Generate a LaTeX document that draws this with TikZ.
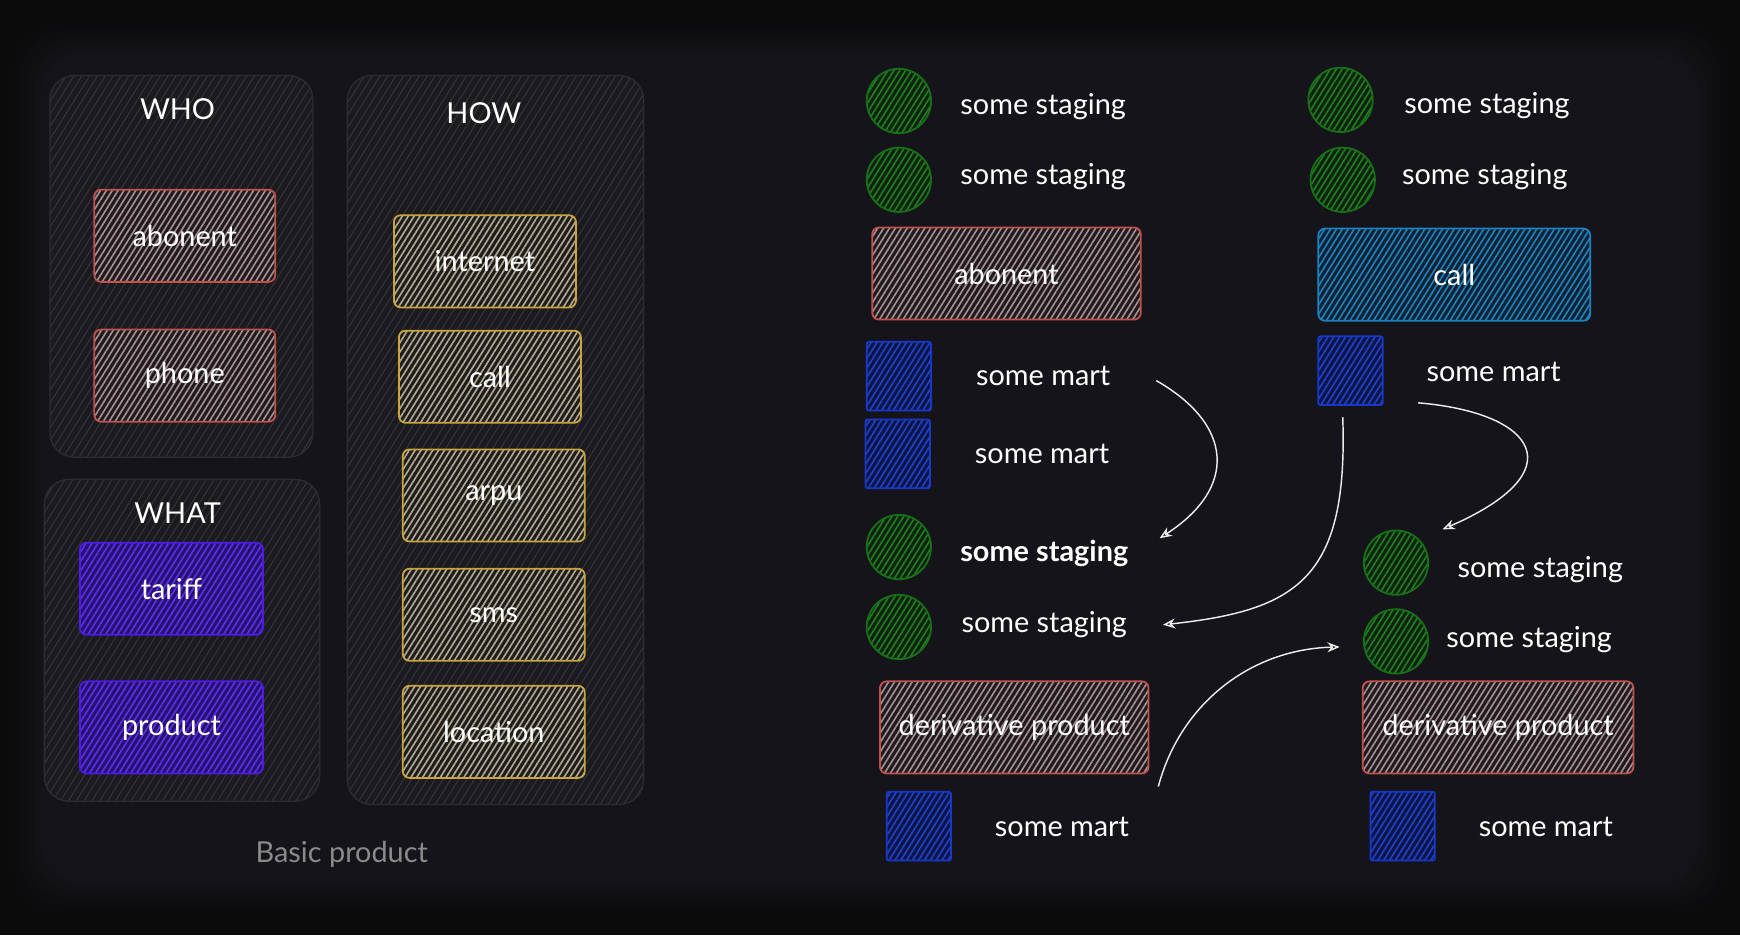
\documentclass[tikz,border=0pt]{standalone}
\usepackage{fontspec}
\setmainfont{Lato}
\usetikzlibrary{patterns.meta,arrows.meta}
\definecolor{outerbg}{HTML}{0B0B0C}
\definecolor{innerbg}{HTML}{16141B}
\definecolor{panelbase}{HTML}{1B1A1F}
\definecolor{panelhatch}{HTML}{38373D}
\definecolor{panelline}{HTML}{2C2B31}
\definecolor{redline}{HTML}{C2504C}
\definecolor{redbase}{HTML}{1F1A1D}
\definecolor{redhatch}{HTML}{A38F92}
\definecolor{yelline}{HTML}{C9A53B}
\definecolor{yelbase}{HTML}{1E1D1C}
\definecolor{yelhatch}{HTML}{B0A792}
\definecolor{purline}{HTML}{4C1DE0}
\definecolor{purbase}{HTML}{26116E}
\definecolor{purhatch}{HTML}{5C2EE8}
\definecolor{grnline}{HTML}{177117}
\definecolor{grnbase}{HTML}{0E220F}
\definecolor{grnhatch}{HTML}{207D20}
\definecolor{bluline}{HTML}{1838C8}
\definecolor{blubase}{HTML}{0E1444}
\definecolor{bluhatch}{HTML}{1E42C8}
\definecolor{cyaline}{HTML}{1B82C2}
\definecolor{cyabase}{HTML}{0E2233}
\definecolor{cyahatch}{HTML}{1F80BA}
\definecolor{capgray}{HTML}{8A8A8A}
\begin{document}
\begin{tikzpicture}[x=1pt,y=-1pt,
  hatch/.style 2 args={preaction={fill=#1},pattern={Lines[angle=58,distance=4.5pt,line width=1.5pt]},pattern color=#2},
  sk/.style={line width=1.6pt,rounded corners=6pt,text=white,font=\fontsize{26}{30}\selectfont,inner sep=0pt},
  panel/.style={draw=panelline,line width=1.2pt,rounded corners=22pt,preaction={fill=panelbase},
    pattern={Lines[angle=58,distance=6pt,line width=.8pt]},pattern color=panelhatch},
  redbox/.style={sk,draw=redline,hatch={redbase}{redhatch},minimum height=83pt},
  yelbox/.style={sk,draw=yelline,hatch={yelbase}{yelhatch},minimum width=164pt,minimum height=83pt},
  purbox/.style={sk,draw=purline,hatch={purbase}{purhatch},minimum width=165pt,minimum height=83pt},
  cyabox/.style={sk,draw=cyaline,hatch={cyabase}{cyahatch},minimum height=83pt},
  staging/.style={circle,draw=grnline,line width=1.6pt,hatch={grnbase}{grnhatch},minimum size=58pt,inner sep=0pt},
  mart/.style={rectangle,rounded corners=2pt,draw=bluline,line width=1.6pt,hatch={blubase}{bluhatch},minimum width=58pt,minimum height=62pt,inner sep=0pt},
  lbl/.style={text=white,font=\fontsize{26}{30}\selectfont,inner sep=0pt},
  flow/.style={draw=white!92!black,line width=1.3pt,-{Stealth[open,length=11pt,width=9pt]}}
]
\useasboundingbox (0,0) rectangle (1568,843);
% background, soft edge
\fill[outerbg] (0,0) rectangle (1568,843);
\foreach \d/\c in {0/10,6/25,12/45,18/65,24/85,30/100}
  \fill[innerbg!\c!outerbg,rounded corners=40pt] (12+\d,22+\d) rectangle (1556-\d,822-\d);

% basic product
\node[panel,minimum width=237pt,minimum height=344pt] (who) at (163.5,240) {};
\node[panel,minimum width=248pt,minimum height=290pt] (what) at (164,577) {};
\node[panel,minimum width=267pt,minimum height=657pt] (how) at (446.5,396.5) {};
\node[lbl] (who-t) at (160,98) {WHO};
\node[lbl] (what-t) at (160,462) {WHAT};
\node[lbl] (how-t) at (436,102) {HOW};
\node[redbox,minimum width=163pt] (who-ab) at (166.5,212.5) {abonent};
\node[redbox,minimum width=163pt] (who-ph) at (166.5,338.5) {phone};
\node[purbox] (what-ta) at (154.5,530.5) {tariff};
\node[purbox] (what-pr) at (154.5,655.5) {product};
\foreach \t/\x/\y in {internet/437/235.5,call/441.5/339.5,arpu/445/446.5,sms/445/554,location/445/659.5}
  \node[yelbox] (how-\t) at (\x,\y) {\t};
\node[lbl,text=capgray] (basic) at (308,770) {Basic product};

% first derivative
\node[staging] (c1s1) at (810,91) {};
\node[lbl] (c1s1t) at (940,96) {some staging};
\node[staging] (c1s2) at (810,162) {};
\node[lbl] (c1s2t) at (940,159) {some staging};
\node[redbox,minimum width=242pt] (c1ab) at (907,246.5) {abonent};
\node[mart] (c1m1) at (810,339) {};
\node[lbl] (c1m1t) at (940,339) {some mart};
\node[mart] (c1m2) at (809,409) {};
\node[lbl] (c1m2t) at (939,409) {some mart};
\node[staging] (c1s3) at (810,493) {};
\node[lbl,font=\fontsize{26}{30}\selectfont\bfseries] (c1s3t) at (941,499) {some staging};
\node[staging] (c1s4) at (810,565) {};
\node[lbl] (c1s4t) at (941,563) {some staging};
\node[redbox,minimum width=242pt] (c1d) at (914,655.5) {derivative product};
\node[mart] (c1m3) at (828,744.5) {};
\node[lbl] (c1m3t) at (957,745) {some mart};

% second derivative
\node[staging] (c2s1) at (1208,90) {};
\node[lbl] (c2s1t) at (1340,95) {some staging};
\node[staging] (c2s2) at (1210,162) {};
\node[lbl] (c2s2t) at (1338,159) {some staging};
\node[cyabox,minimum width=245pt] (c2call) at (1310.5,247.5) {call};
\node[mart] (c2m1) at (1217,334) {};
\node[lbl] (c2m1t) at (1346,335) {some mart};
\node[staging] (c2s3) at (1258,507) {};
\node[lbl] (c2s3t) at (1388,513) {some staging};
\node[staging] (c2s4) at (1258,578) {};
\node[lbl] (c2s4t) at (1378,576) {some staging};
\node[redbox,minimum width=244pt] (c2d) at (1350,655.5) {derivative product};
\node[mart] (c2m2) at (1264,744.5) {};
\node[lbl] (c2m2t) at (1393,745) {some mart};

% arrows
\draw[flow] ([xshift=102pt,yshift=-4pt]c1m1t.center) .. controls +(70,40) and +(70,-45) .. ([xshift=104pt,yshift=14pt]c1s3t.center);
\draw[flow] ([xshift=-7pt,yshift=-10pt]c2m1.south) .. controls +(5,145) and +(122,-13) .. ([xshift=107pt]c1s4t.center);
\draw[flow] ([xshift=-68pt,yshift=-28pt]c2m1t.center) .. controls +(107,9) and +(120,-52) .. ([xshift=-88pt,yshift=36pt]c2s3t.center);
\draw[flow] ([xshift=8pt,yshift=-11pt]c1d.south east) .. controls +(20,-75) and +(-80,2) .. ([xshift=-21pt,yshift=-5pt]c2s4.west);
\end{tikzpicture}
\end{document}
